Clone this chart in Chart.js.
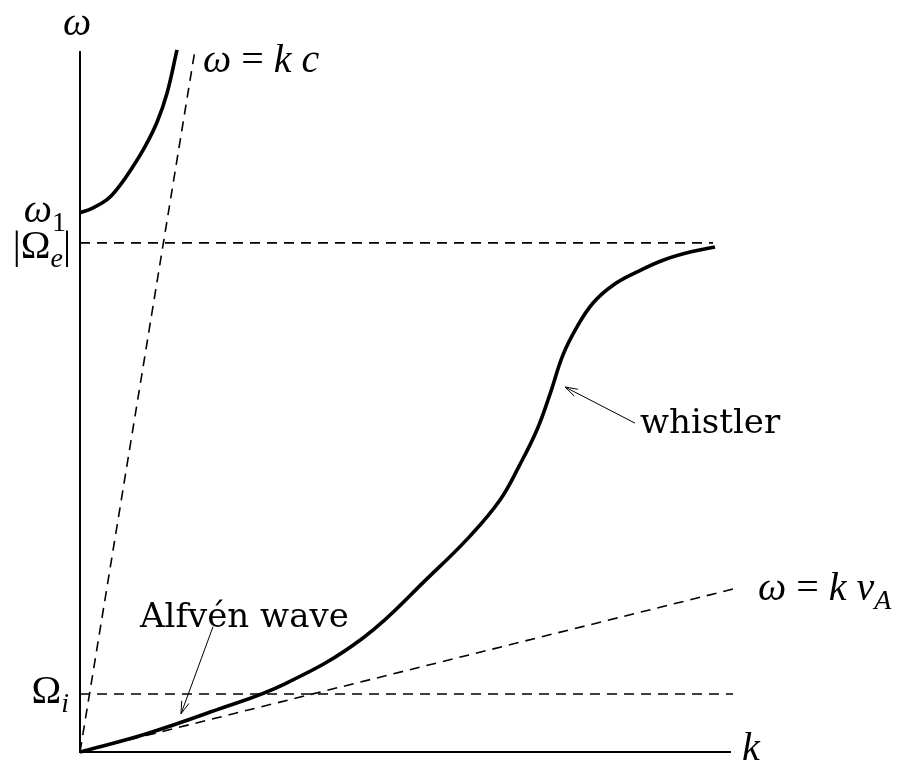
<!DOCTYPE html>
<html>
<head>
<meta charset="utf-8">
<script src="https://cdn.jsdelivr.net/npm/chart.js@4.4.1/dist/chart.umd.min.js"></script>
<style>
  html, body { margin: 0; padding: 0; background: #fff; }
  canvas { display: block; }
</style>
</head>
<body>
<canvas id="dispersion" width="917" height="767"></canvas>
<script>
// axis ranges (k in arbitrary units, omega normalised to |Omega_e|)
const kMax = 1.3;
const wMax = 1.375;

// characteristic frequencies
const omegaE = 1.0;     // |Omega_e|
const omegaI = 0.114;   // Omega_i

// upper (light) branch, starts at omega_1
const upperK = [0, 0.024, 0.054, 0.076, 0.104, 0.13, 0.154, 0.174, 0.194];
const upperW = [1.059, 1.068, 1.085, 1.108, 1.147, 1.189, 1.237, 1.294, 1.379];

// Alfven / whistler branch
const whistlerK = [0, 0.13, 0.262, 0.41, 0.566, 0.7, 0.78, 0.84, 0.88, 0.914, 0.94, 0.966, 0.994, 1.026, 1.066, 1.114, 1.166, 1.22, 1.27];
const whistlerW = [0, 0.035, 0.079, 0.134, 0.224, 0.346, 0.424, 0.495, 0.565, 0.633, 0.703, 0.78, 0.835, 0.882, 0.917, 0.943, 0.966, 0.982, 0.992];

// asymptotes: omega = k c and omega = k vA
const lightK = [0, 0.23];
const lightW = [0, 1.379];
const alfvenK = [0, 1.314];
const alfvenW = [0, 0.322];

// horizontal reference lines end here
const omegaEEnd = 1.266;
const omegaIEnd = 1.306;

// labels: [k, omega, align, runs]  runs: [text, italic, subscript, kind]
const labels = [
  [-0.006, 1.409, 'center', [['ω', true, false]]],
  [0.246, 1.336, 'left', [['ω', true, false], [' = ', false, false], ['k', true, false], [' ', false, false], ['c', true, false]]],
  [-0.028, 1.041, 'right', [['ω', true, false], ['1', false, true]]],
  [-0.018, 0.971, 'right', [['|Ω', false, false], ['e', true, true], ['|', false, false]]],
  [-0.022, 0.096, 'right', [['Ω', false, false], ['i', true, true]]],
  [1.324, -0.016, 'left', [['k', true, false]]],
  [1.356, 0.299, 'left', [['ω', true, false], [' = ', false, false], ['k', true, false], [' ', false, false], ['v', true, false], ['A', true, true]]],
  [1.12, 0.627, 'left', [['whistler', false, false, 'text']]],
  [0.12, 0.246, 'left', [['Alfvén wave', false, false, 'text']]]
];

// pointer arrows: [fromK, fromW, toK, toW]
const arrows = [
  [1.11, 0.646, 0.97, 0.717],
  [0.266, 0.246, 0.202, 0.075]
];

function pts(xs, ys) {
  return xs.map((x, i) => ({ x: x, y: ys[i] }));
}

const MATH_SIZE = 40;
const TEXT_SIZE = 34;

function runFont(run) {
  if (run[3] === 'text') return TEXT_SIZE + 'px "DejaVu Serif"';
  const size = run[2] ? Math.round(MATH_SIZE * 0.7) : MATH_SIZE;
  return (run[1] ? 'italic ' : '') + size + 'px "Liberation Serif"';
}

// draws the math / text annotations and the arrows
const annotations = {
  id: 'annotations',
  afterDatasetsDraw(chart) {
    const ctx = chart.ctx;
    const xs = chart.scales.x, ys = chart.scales.y;
    ctx.save();
    ctx.fillStyle = '#000';
    ctx.textBaseline = 'alphabetic';
    ctx.textAlign = 'left';

    labels.forEach(([k, w, align, runs]) => {
      let total = 0;
      runs.forEach(r => { ctx.font = runFont(r); total += ctx.measureText(r[0]).width; });
      let x = xs.getPixelForValue(k);
      const y = ys.getPixelForValue(w);
      if (align === 'center') x -= total / 2;
      if (align === 'right') x -= total;
      runs.forEach(r => {
        ctx.font = runFont(r);
        ctx.fillText(r[0], x, r[2] ? y + 9 : y);
        x += ctx.measureText(r[0]).width;
      });
    });

    ctx.strokeStyle = '#000';
    ctx.lineWidth = 1;
    arrows.forEach(([k0, w0, k1, w1]) => {
      const x0 = xs.getPixelForValue(k0), y0 = ys.getPixelForValue(w0);
      const x1 = xs.getPixelForValue(k1), y1 = ys.getPixelForValue(w1);
      const a = Math.atan2(y1 - y0, x1 - x0);
      ctx.beginPath();
      ctx.moveTo(x0, y0);
      ctx.lineTo(x1, y1);
      ctx.moveTo(x1 - 13 * Math.cos(a - 0.3), y1 - 13 * Math.sin(a - 0.3));
      ctx.lineTo(x1, y1);
      ctx.lineTo(x1 - 13 * Math.cos(a + 0.3), y1 - 13 * Math.sin(a + 0.3));
      ctx.stroke();
    });
    ctx.restore();
  }
};

const solid = { borderColor: '#000', borderWidth: 3.6, pointRadius: 0, showLine: true, fill: false, clip: false, tension: 0.4 };
const dashed = { borderColor: '#000', borderWidth: 1.6, borderDash: [10, 7], pointRadius: 0, showLine: true, fill: false, clip: false };

new Chart(document.getElementById('dispersion'), {
  type: 'scatter',
  data: {
    datasets: [
      Object.assign({ label: 'upper branch', data: pts(upperK, upperW) }, solid),
      Object.assign({ label: 'whistler', data: pts(whistlerK, whistlerW) }, solid),
      Object.assign({ label: 'omega = k c', data: pts(lightK, lightW) }, dashed),
      Object.assign({ label: 'omega = k vA', data: pts(alfvenK, alfvenW) }, dashed),
      Object.assign({ label: '|Omega_e|', data: [{ x: 0, y: omegaE }, { x: omegaEEnd, y: omegaE }] }, dashed),
      Object.assign({ label: 'Omega_i', data: [{ x: 0, y: omegaI }, { x: omegaIEnd, y: omegaI }] }, dashed)
    ]
  },
  options: {
    responsive: false,
    animation: false,
    layout: { padding: { left: 80, right: 187, top: 52, bottom: 15 } },
    scales: {
      x: {
        type: 'linear', min: 0, max: kMax,
        grid: { display: false, drawTicks: false },
        ticks: { display: false },
        border: { display: true, color: '#000', width: 2 }
      },
      y: {
        type: 'linear', min: 0, max: wMax,
        grid: { display: false, drawTicks: false },
        ticks: { display: false },
        border: { display: true, color: '#000', width: 2 }
      }
    },
    plugins: {
      legend: { display: false },
      tooltip: { enabled: false }
    }
  },
  plugins: [annotations]
});
</script>
</body>
</html>
